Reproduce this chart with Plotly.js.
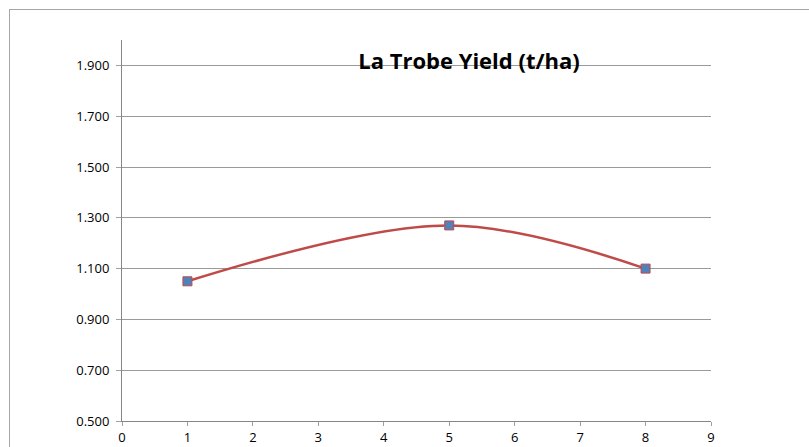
<!DOCTYPE html>
<html>
<head>
<meta charset="utf-8">
<script src="https://cdn.plot.ly/plotly-3.0.1.min.js"></script>
<style>
html,body{margin:0;padding:0;background:#fff;}
#frame{position:absolute;left:9px;top:9px;width:900px;height:600px;border:1px solid #a6a6a6;box-sizing:border-box;}
#chart{position:absolute;left:0;top:0;width:809px;height:447px;}
</style>
</head>
<body>
<div id="frame"></div>
<div id="chart"></div>
<script>
const xValues = [1, 5, 8];
const yieldValues = [1.05, 1.27, 1.10];
const yTickVals = [0.5, 0.7, 0.9, 1.1, 1.3, 1.5, 1.7, 1.9];
const yTickText = ["0.500", "0.700", "0.900", "1.100", "1.300", "1.500", "1.700", "1.900"];
const xTickVals = [0, 1, 2, 3, 4, 5, 6, 7, 8, 9];
const chartTitle = "La Trobe Yield (t/ha)";

const trace = {
  x: xValues,
  y: yieldValues,
  type: "scatter",
  mode: "lines+markers",
  line: {color: "#be4b48", width: 2.5, shape: "spline", smoothing: 1},
  marker: {symbol: "square", size: 9, color: "#4f81bd", line: {color: "#be4b48", width: 1}},
  showlegend: false,
  hoverinfo: "none"
};

const layout = {
  width: 809,
  height: 447,
  margin: {l: 122, r: 98, t: 40, b: 26},
  paper_bgcolor: "rgba(0,0,0,0)",
  plot_bgcolor: "rgba(0,0,0,0)",
  font: {family: "'Open Sans', sans-serif", size: 13, color: "#000"},
  title: {
    text: "<b>" + chartTitle + "</b>",
    font: {family: "'Open Sans', sans-serif", size: 22, color: "#000"},
    xref: "container", yref: "container",
    x: 469 / 809, y: 1 - 61 / 447,
    xanchor: "center", yanchor: "middle"
  },
  xaxis: {
    range: [0, 9],
    tickvals: xTickVals,
    ticktext: xTickVals.map(String),
    ticks: "outside", ticklen: 4, tickcolor: "#a0a0a0",
    showline: true, linecolor: "#868686", linewidth: 1,
    showgrid: false, zeroline: false,
    tickfont: {size: 13}
  },
  yaxis: {
    range: [0.5, 2.0],
    tickvals: yTickVals,
    ticktext: yTickText,
    ticks: "outside", ticklen: 5, tickcolor: "#a0a0a0",
    showline: true, linecolor: "#868686", linewidth: 1,
    showgrid: true, gridcolor: "#9a9a9a", gridwidth: 1,
    zeroline: false,
    ticklabelstandoff: 4,
    tickfont: {size: 13}
  }
};

Plotly.newPlot("chart", [trace], layout, {staticPlot: true, displayModeBar: false});
</script>
</body>
</html>
